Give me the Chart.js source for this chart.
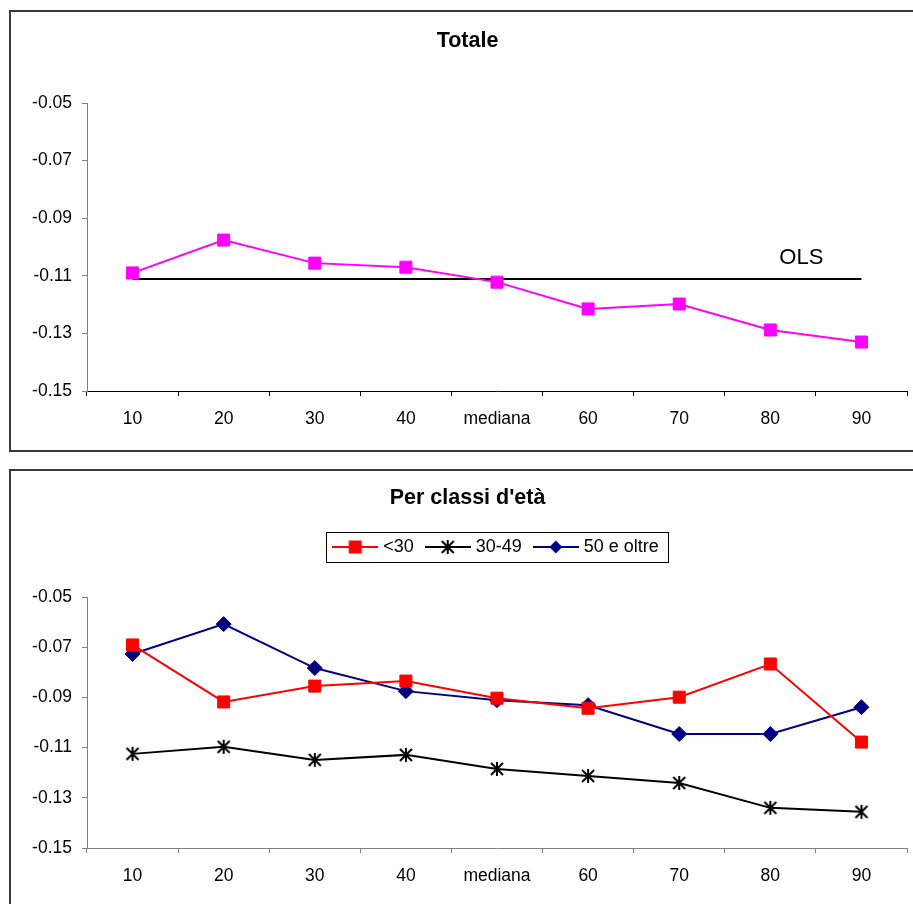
<!DOCTYPE html>
<html>
<head>
<meta charset="utf-8">
<script src="https://cdn.jsdelivr.net/npm/chart.js@4"></script>
<style>
  body { margin: 0; background: #fff; width: 913px; height: 904px; overflow: hidden; position: relative; }
  .box { position: absolute; left: 9px; width: 930px; border: 2px solid #3a3a3a; }
  #box1 { top: 10px; height: 438px; }
  #box2 { top: 469px; height: 480px; }
  canvas { position: absolute; left: 0; }
  #grafico1 { top: 0; }
  #grafico2 { top: 460px; }
</style>
</head>
<body>
<div class="box" id="box1"></div>
<div class="box" id="box2"></div>
<canvas id="grafico1" width="913" height="460"></canvas>
<canvas id="grafico2" width="913" height="444"></canvas>
<script>
const categorie = ["10", "20", "30", "40", "mediana", "60", "70", "80", "90"];
const yTicks = [-0.15, -0.13, -0.11, -0.09, -0.07, -0.05];

// grafico in alto
const totale = [-0.109, -0.0976, -0.1056, -0.107, -0.1122, -0.1215, -0.1198, -0.1288, -0.133];
const ols = [-0.1111, -0.1111, -0.1111, -0.1111, -0.1111, -0.1111, -0.1111, -0.1111, -0.1111];

// grafico in basso, per classi d'età
const etichette = ["<30", "30-49", "50 e oltre"];
const meno30 = [-0.0691, -0.0918, -0.0855, -0.0835, -0.0903, -0.0943, -0.0899, -0.0767, -0.1078];
const da30a49 = [-0.1125, -0.1097, -0.1149, -0.1129, -0.1185, -0.1213, -0.1241, -0.134, -0.1356];
const oltre50 = [-0.0727, -0.0608, -0.0783, -0.0875, -0.0911, -0.0931, -0.1046, -0.1046, -0.0939];

const FONT = '"Liberation Sans", Arial, sans-serif';

function disegnaMarker(ctx, tipo, x, y, colore) {
  ctx.fillStyle = colore;
  ctx.strokeStyle = colore;
  if (tipo === "quadrato") {
    ctx.fillRect(x - 6.5, y - 6.5, 13, 13);
  } else if (tipo === "rombo") {
    ctx.beginPath();
    ctx.moveTo(x, y - 6.5); ctx.lineTo(x + 6.5, y); ctx.lineTo(x, y + 6.5); ctx.lineTo(x - 6.5, y);
    ctx.closePath(); ctx.fill();
  } else if (tipo === "asterisco") {
    ctx.lineWidth = 2;
    ctx.beginPath();
    ctx.moveTo(x, y - 7); ctx.lineTo(x, y + 7);
    ctx.moveTo(x - 6, y - 6); ctx.lineTo(x + 6, y + 6);
    ctx.moveTo(x - 6, y + 6); ctx.lineTo(x + 6, y - 6);
    ctx.stroke();
  }
}

function asterisco(colore) {
  const c = document.createElement("canvas");
  c.width = 16; c.height = 16;
  disegnaMarker(c.getContext("2d"), "asterisco", 8, 8, colore);
  return c;
}

function iconaLegenda(tipo, colore) {
  const c = document.createElement("canvas");
  c.width = 46; c.height = 16;
  const ctx = c.getContext("2d");
  ctx.strokeStyle = colore;
  ctx.lineWidth = 2;
  ctx.beginPath(); ctx.moveTo(0, 8); ctx.lineTo(46, 8); ctx.stroke();
  disegnaMarker(ctx, tipo, 23, 8, colore);
  return c;
}

function assi(coloreX) {
  return {
    x: {
      offset: true,
      grid: { offset: true, drawOnChartArea: false, tickLength: 5, color: coloreX },
      border: { color: coloreX, width: 1 },
      ticks: { color: "#000", font: { family: FONT, size: 17.5 }, padding: 13, maxRotation: 0 },
      afterFit: (s) => { s.height = 50; }
    },
    y: {
      min: -0.15, max: -0.05,
      grid: { drawOnChartArea: false, tickLength: 5, color: "#808080" },
      border: { color: "#808080", width: 1 },
      ticks: { color: "#000", font: { family: FONT, size: 17.5 }, padding: 10, callback: (v) => v.toFixed(2) },
      afterBuildTicks: (s) => { s.ticks = yTicks.map(v => ({ value: v })); },
      afterFit: (s) => { s.width = 59; }
    }
  };
}

function titolo(testo, sopra, sotto) {
  return {
    display: true,
    text: testo,
    color: "#000",
    font: { family: FONT, size: 21.5, weight: "bold" },
    padding: { top: sopra, bottom: sotto }
  };
}

// etichetta "OLS" sopra la linea, vicino al punto 80
const etichettaOls = {
  id: "etichettaOls",
  afterDatasetsDraw(chart) {
    const p = chart.getDatasetMeta(1).data[7];
    const ctx = chart.ctx;
    ctx.save();
    ctx.font = "22px " + FONT;
    ctx.fillStyle = "#000";
    ctx.textAlign = "left";
    ctx.textBaseline = "middle";
    ctx.fillText("OLS", p.x + 9, p.y - 21);
    ctx.restore();
  }
};

// legenda con cornice, spostata come nell'originale
const cornice = {
  id: "cornice",
  beforeLayout(chart) {
    const lg = chart.legend;
    if (!lg._fitOrig) {
      lg._fitOrig = lg.fit;
      lg.fit = function () { this._fitOrig(); this.height = 74; };
    }
  },
  afterLayout(chart) {
    chart.legend.left += 30;
    chart.legend.right += 30;
  },
  afterDraw(chart) {
    const hb = chart.legend.legendHitBoxes;
    if (!hb.length) return;
    const ultimo = hb[hb.length - 1];
    const ctx = chart.ctx;
    const cy = hb[0].top + hb[0].height / 2;
    ctx.save();
    ctx.strokeStyle = "#000";
    ctx.lineWidth = 1;
    ctx.strokeRect(Math.round(hb[0].left - 10) + 0.5, Math.round(cy - 15) + 0.5,
      Math.round(ultimo.left + ultimo.width + 9 - (hb[0].left - 10)), 30);
    ctx.restore();
  }
};

document.addEventListener("DOMContentLoaded", () => {
  new Chart(document.getElementById("grafico1"), {
    type: "line",
    data: {
      labels: categorie,
      datasets: [
        {
          label: "Totale",
          data: totale,
          borderColor: "#FF00FF",
          backgroundColor: "#FF00FF",
          borderWidth: 2,
          pointStyle: "rect",
          pointRadius: 8.5,
          pointBorderWidth: 1,
          tension: 0
        },
        {
          label: "OLS",
          data: ols,
          borderColor: "#000",
          borderWidth: 2,
          pointRadius: 0,
          tension: 0
        }
      ]
    },
    options: {
      responsive: false,
      animation: false,
      devicePixelRatio: 1,
      layout: { autoPadding: false, padding: { left: 28, right: 6, top: 10, bottom: 19 } },
      plugins: {
        legend: { display: false },
        tooltip: { enabled: false },
        title: titolo("Totale", 18, 49.2)
      },
      scales: assi("#000")
    },
    plugins: [etichettaOls]
  });

  const stili = [
    { dati: meno30, colore: "#FF0000", marker: "quadrato", punto: "rect", raggio: 8.5 },
    { dati: da30a49, colore: "#000000", marker: "asterisco", punto: asterisco("#000"), raggio: 7 },
    { dati: oltre50, colore: "#000080", marker: "rombo", punto: "rectRot", raggio: 7.5 }
  ];

  new Chart(document.getElementById("grafico2"), {
    type: "line",
    data: {
      labels: categorie,
      datasets: stili.map((s, i) => ({
        label: etichette[i],
        data: s.dati,
        borderColor: s.colore,
        backgroundColor: s.colore,
        borderWidth: 2,
        pointStyle: s.punto,
        pointRadius: s.raggio,
        pointBorderWidth: 1,
        tension: 0
      }))
    },
    options: {
      responsive: false,
      animation: false,
      devicePixelRatio: 1,
      layout: { autoPadding: false, padding: { left: 28, right: 6, top: 9, bottom: 6 } },
      plugins: {
        tooltip: { enabled: false },
        title: titolo("Per classi d'età", 16, 12.2),
        legend: {
          labels: {
            color: "#000",
            font: { family: FONT, size: 18 },
            usePointStyle: true,
            pointStyleWidth: 38,
            boxHeight: 18,
            padding: 15,
            generateLabels: (chart) => stili.map((s, i) => ({
              text: etichette[i],
              fillStyle: s.colore,
              strokeStyle: s.colore,
              fontColor: "#000",
              lineWidth: 0,
              pointStyle: iconaLegenda(s.marker, s.colore),
              hidden: false,
              datasetIndex: i
            }))
          }
        }
      },
      scales: assi("#808080")
    },
    plugins: [cornice]
  });
});
</script>
</body>
</html>
